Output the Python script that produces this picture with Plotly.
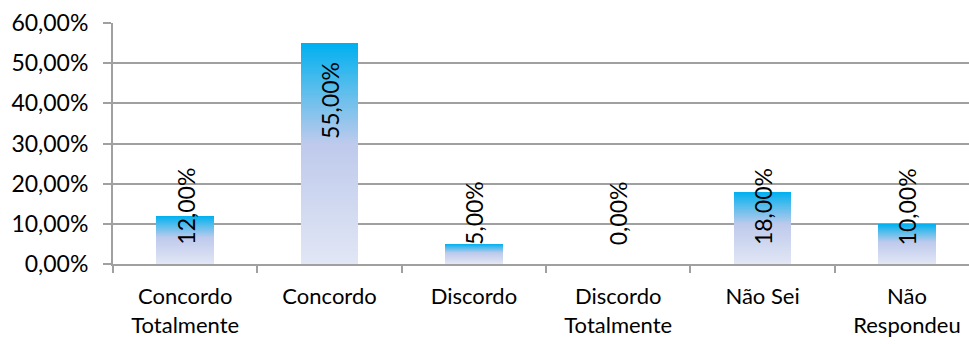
import plotly.graph_objects as go

# Dados
categorias = ["Concordo<br>Totalmente", "Concordo", "Discordo", "Discordo<br>Totalmente",
              "Não Sei", "Não<br>Respondeu"]
valores = [0.12, 0.55, 0.05, 0.00, 0.18, 0.10]
rotulos = ["12,00%", "55,00%", "5,00%", "0,00%", "18,00%", "10,00%"]

# Gradiente (topo azul -> base lilás claro)
paradas = [(0.0, (0, 176, 240)), (0.22, (95, 190, 236)), (0.45, (190, 202, 236)), (1.0, (226, 231, 245))]


def cor_gradiente(t):
    for (t0, c0), (t1, c1) in zip(paradas[:-1], paradas[1:]):
        if t0 <= t <= t1:
            f = (t - t0) / (t1 - t0)
            c = [round(a + (b - a) * f) for a, b in zip(c0, c1)]
            return f"rgb({c[0]},{c[1]},{c[2]})"
    return "rgb(226,231,245)"


fig = go.Figure()

# Barras sobrepostas para simular o preenchimento em gradiente
n = 120
for i in range(n):
    frac = 1 - i / n
    fig.add_trace(go.Bar(
        x=categorias, y=[v * frac for v in valores],
        width=0.4, marker=dict(color=cor_gradiente(i / n), line=dict(width=0)),
        hoverinfo="skip", showlegend=False,
    ))

margem_topo = 23
altura_plot = 241.5
ymax = 0.6
px_por_unid = altura_plot / ymax
altura_texto = 80
folga = 17
fonte = "Lato"

for cat, v, rot in zip(categorias, valores, rotulos):
    if v * px_por_unid >= altura_texto + 2 * folga:
        y, ya, ys = v, "top", -folga
    else:
        y, ya, ys = 0, "bottom", folga
    fig.add_annotation(x=cat, y=y, text=rot, textangle=-90, showarrow=False,
                       yanchor=ya, yshift=ys, xanchor="center",
                       font=dict(family=fonte, size=23, color="#000000"))

fig.update_layout(
    width=969, height=344,
    margin=dict(l=113, r=0, t=margem_topo, b=344 - margem_topo - altura_plot),
    barmode="overlay", bargap=0,
    plot_bgcolor="white", paper_bgcolor="white",
    separators=",.",
    font=dict(family=fonte, size=23, color="#000000"),
)
fig.update_xaxes(
    type="category", range=[-0.5, 5.43], tickson="boundaries",
    ticks="outside", ticklen=7, tickcolor="#a0a0a0", tickwidth=2,
    showline=True, linecolor="#a0a0a0", linewidth=2, showgrid=False,
    ticklabelstandoff=12, tickfont=dict(size=22),
)
fig.update_yaxes(
    range=[0, ymax], dtick=0.1, tickformat=".2%",
    ticks="outside", ticklen=8, tickcolor="#a0a0a0", tickwidth=2,
    showline=True, linecolor="#a0a0a0", linewidth=2,
    showgrid=True, gridcolor="#a0a0a0", gridwidth=2, zeroline=False,
    ticklabelstandoff=10,
)

fig.write_html("out.html", config={"displayModeBar": False},
               post_script="document.body.style.margin='0';")
